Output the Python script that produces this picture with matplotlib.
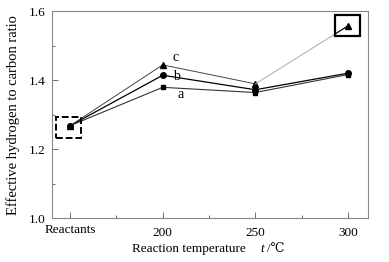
import matplotlib
matplotlib.use('Agg')
import matplotlib.pyplot as plt
from matplotlib.patches import Rectangle
from matplotlib.transforms import ScaledTranslation

plt.rcParams['font.family'] = ['Liberation Serif', 'DejaVu Serif']

categories = ['Reactants', '200', '250', '300']
a_vals = [1.268, 1.379, 1.364, 1.416]
b_vals = [1.268, 1.414, 1.372, 1.420]
c_vals = [1.268, 1.444, 1.389, 1.557]

x = list(range(len(categories)))

fig = plt.figure(figsize=(3.89, 2.62), dpi=100)
ax = fig.add_axes([0.134, 0.167, 0.812, 0.791])

# series a, b, c
ax.plot(x, a_vals, color='#333333', lw=0.8, marker='s', ms=3.4, mfc='black', mec='black')
ax.plot(x, b_vals, color='black', lw=0.9, marker='o', ms=4, mfc='black', mec='black')
ax.plot(x[:3], c_vals[:3], color='#444444', lw=0.7, marker='^', ms=4.2, mfc='black', mec='black')
ax.plot(x[2:], c_vals[2:], color='#aaaaaa', lw=0.7)
ax.plot(x[3], c_vals[3], marker='^', ms=4.2, color='black', ls='none')

# highlight boxes
box1 = Rectangle((-0.151, 1.233), 0.266, 0.060, fill=False, ec='black', lw=1.4, ls=(0, (3.5, 1.5)), zorder=5)
box2 = Rectangle((2.86, 1.528), 0.27, 0.060, fill=False, ec='black', lw=1.6, zorder=5)
ax.add_patch(box1)
ax.add_patch(box2)
seg, = ax.plot(x[2:], c_vals[2:], color='black', lw=0.8)
seg.set_clip_path(box2)

ax.text(1.135, 1.464, 'c', fontsize=10, ha='center', va='center')
ax.text(1.145, 1.409, 'b', fontsize=10, ha='center', va='center')
ax.text(1.19, 1.357, 'a', fontsize=10, ha='center', va='center')

ax.set_xlim(-0.194, 3.216)
ax.set_ylim(1.0, 1.6)
ax.set_xticks(x)
ax.set_xticklabels(categories, fontsize=9.5)
ax.set_xticks([0.5, 1.5, 2.5], minor=True)
ax.set_yticks([1.0, 1.2, 1.4, 1.6])
ax.set_yticklabels(['1.0', '1.2', '1.4', '1.6'], fontsize=9.5)
ax.set_yticks([1.1, 1.3, 1.5], minor=True)
ax.tick_params(which='major', direction='in', length=4, width=0.6, color='#555555', pad=5)
ax.tick_params(axis='x', which='major', pad=6)
ax.tick_params(which='minor', direction='in', length=2.5, width=0.6, color='#555555')
for s in ax.spines.values():
    s.set_color('#888888')
    s.set_linewidth(0.8)

lbl = ax.get_xticklabels()[0]
lbl.set_transform(lbl.get_transform() + ScaledTranslation(0, 2 / 72, fig.dpi_scale_trans))

ax.set_ylabel('Effective hydrogen to carbon ratio', fontsize=10.5, labelpad=6)
fig.text(0.485, 0.05, 'Reaction temperature', fontsize=9.5, ha='center', va='center')
fig.text(0.675, 0.05, 't', fontsize=9.5, style='italic', ha='center', va='center')
fig.text(0.686, 0.05, '/\u2103', fontsize=9, ha='left', va='center')

fig.savefig('out.png', dpi=100)
